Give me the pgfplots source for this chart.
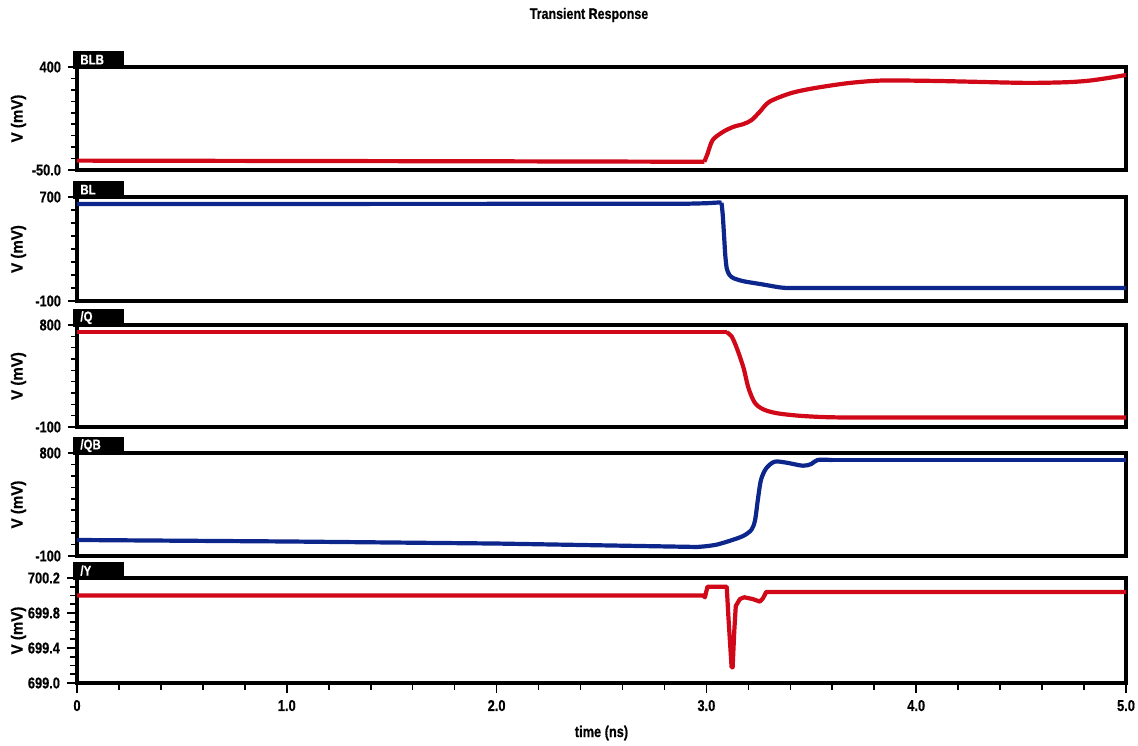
\documentclass[border=0pt]{standalone}
\usepackage{fontspec}
\setmainfont{Liberation Sans}
\newfontfamily\cf{Liberation Sans}[FakeStretch=0.82, FakeBold=0.5]
\newfontfamily\cfw{Liberation Sans}[FakeStretch=0.92, FakeBold=0.5]
\usepackage{pgfplots}
\pgfplotsset{compat=1.18}
\definecolor{cred}{RGB}{208,8,24}
\definecolor{cblue}{RGB}{12,38,140}
\pgfplotsset{
  panel/.style={
    scale only axis, width=524.5pt, xmin=0, xmax=5,
    axis line style={line width=2pt},
    tick align=outside, ytick pos=left, xtick pos=bottom,
    xtick=\empty,
    major tick length=4.5pt, minor tick length=3pt,
    every tick/.style={black, line width=0.8pt},
    yticklabel style={font=\cf\bfseries\fontsize{7.8}{8}\selectfont},
    xticklabel style={font=\cf\bfseries\fontsize{7.8}{8}\selectfont},
    ylabel={V (mV)},
    every axis y label/.style={at={(axis description cs:-0.0558,0.5)}, rotate=90, anchor=center, font=\cfw\bfseries\fontsize{8.2}{9}\selectfont},
    clip=false,
  },
  every axis plot/.append style={line width=2.1pt, line join=round, no marks},
}
\newcommand{\tab}[2]{\node[fill=black, text=white, anchor=south west, minimum height=9pt, inner sep=0pt, font=\cf\bfseries\fontsize{7}{7}\selectfont] at ([xshift=-2pt,yshift=-1pt]#1.north west) {\makebox[25.5pt][l]{\hspace{3.5pt}#2}};}
\begin{document}
\begin{tikzpicture}
\useasboundingbox (0,0) rectangle (569pt,-372.5pt);
\node[font=\cf\bfseries\fontsize{7.6}{8}\selectfont] at (294.5pt,-7.5pt) {Transient Response};

% BLB
\begin{axis}[panel, name=p1, at={(38.5pt,-85pt)}, anchor=south west, height=51.5pt,
  ymin=-50, ymax=400, ytick={-50,400}, yticklabels={-50.0,400},
  minor ytick={0,50,...,350}]
\addplot[cred] coordinates {(0,-9)(1,-10.5)(2,-12)(2.99,-14)};
\addplot[cred, smooth, tension=0.5] coordinates {(2.99,-14)(3.005,20)(3.03,81)(3.08,117)(3.13,139)(3.177,151)(3.215,168)(3.255,205)(3.30,248)(3.40,285)(3.51,307)(3.67,329)(3.81,340)(3.92,341)(4.1,339)(4.25,336)(4.49,331)(4.6,331)(4.73,334)(4.82,340)(4.9,350)(5.0,365)};
\end{axis}

% BL
\begin{axis}[panel, name=p2, at={(38.5pt,-150.5pt)}, anchor=south west, height=52pt,
  ymin=-100, ymax=700, ytick={-100,700}, yticklabels={-100,700},
  minor ytick={0,100,...,600}]
\addplot[cblue] coordinates {(0,646)(2.9,648)(3.0,652)(3.06,658)(3.072,656)};
\addplot[cblue, smooth, tension=0.4] coordinates {(3.072,656)(3.078,560)(3.085,380)(3.09,250)(3.097,150)(3.11,100)(3.13,75)(3.177,52)(3.27,27)(3.33,10)(3.37,2)(3.5,0)(5,0)};
\end{axis}

% /Q
\begin{axis}[panel, name=p3, at={(38.5pt,-213.5pt)}, anchor=south west, height=51pt,
  ymin=-100, ymax=800, ytick={-100,800}, yticklabels={-100,800},
  minor ytick={0,100,...,700}]
\addplot[cred] coordinates {(0,736)(3.097,736)};
\addplot[cred, smooth, tension=0.5] coordinates {(3.097,736)(3.12,700)(3.145,596)(3.177,421)(3.20,247)(3.23,116)(3.27,57)(3.335,22)(3.446,-1)(3.59,-14)(3.8,-16)(5,-16)};
\end{axis}

% /QB
\begin{axis}[panel, name=p4, at={(38.5pt,-278pt)}, anchor=south west, height=51.5pt,
  ymin=-100, ymax=800, ytick={-100,800}, yticklabels={-100,800},
  minor ytick={0,100,...,700}]
\addplot[cblue] coordinates {(0,40)(1,27)(2,9)(2.955,-21)};
\addplot[cblue, smooth, tension=0.5] coordinates {(2.955,-21)(3.0,-14)(3.05,0)(3.11,32)(3.175,75)(3.215,130)(3.232,214)(3.245,389)(3.26,564)(3.285,666)(3.325,724)(3.38,716)(3.46,689)(3.50,704)(3.53,739)(3.6,739)};
\addplot[cblue] coordinates {(3.6,739)(5,739)};
\end{axis}

% /Y
\begin{axis}[panel, name=p5, at={(38.5pt,-341.5pt)}, anchor=south west, height=52.5pt,
  ymin=699.0, ymax=700.2, ytick={699.0,699.4,699.8,700.2}, yticklabels={699.0,699.4,699.8,700.2},
  minor ytick={699.1,699.2,699.3,699.5,699.6,699.7,699.9,700.0,700.1},
  xtick={0,1,2,3,4,5}, xticklabels={0,1.0,2.0,3.0,4.0,5.0},
  minor xtick={0.2,0.4,0.6,0.8,1.2,1.4,1.6,1.8,2.2,2.4,2.6,2.8,3.2,3.4,3.6,3.8,4.2,4.4,4.6,4.8},
  major tick length=5pt, minor tick length=3.5pt,
  xlabel={time (ns)},
  every axis x label/.style={at={(axis description cs:0.5,-0.476)}, anchor=center, font=\cf\bfseries\fontsize{7.8}{8}\selectfont}]
\addplot[cred] coordinates {(0,700.0)(2.985,700.0)(2.993,699.98)(3.005,700.1)(3.097,700.1)(3.105,699.75)(3.12,699.18)(3.125,699.18)(3.133,699.6)(3.14,699.88)(3.16,699.96)(3.18,699.98)(3.22,699.96)(3.255,699.93)(3.27,699.97)(3.285,700.04)(5,700.04)};
\end{axis}

\tab{p1}{BLB}
\tab{p2}{BL}
\tab{p3}{/Q}
\tab{p4}{/QB}
\tab{p5}{/Y}
\end{tikzpicture}
\end{document}
